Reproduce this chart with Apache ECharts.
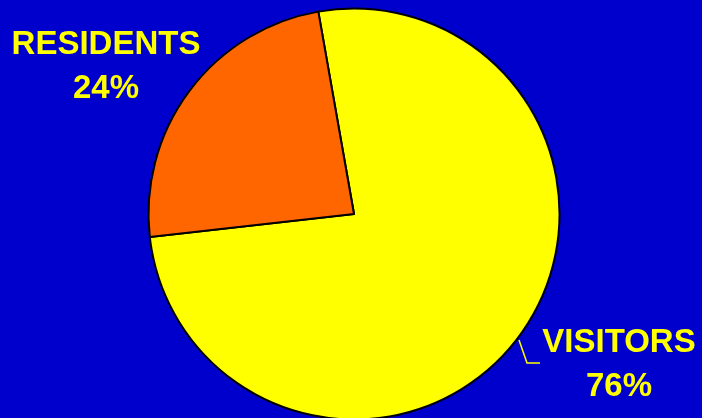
<!DOCTYPE html>
<html><head><meta charset="utf-8">
<script src="https://cdn.jsdelivr.net/npm/echarts@6/dist/echarts.min.js"></script>
<style>html,body{margin:0;padding:0;background:#0000cc;}#c{width:702px;height:418px;}</style>
</head><body><div id="c"></div>
<script>
var categories = ['VISITORS', 'RESIDENTS'];
var values = [76, 24];
var colors = ['#ffff00', '#ff6600'];

var chart = echarts.init(document.getElementById('c'), null, {renderer: 'canvas'});
var data = categories.map(function (n, i) {
  return {
    name: n, value: values[i],
    itemStyle: {color: colors[i]},
    labelLine: {show: i === 0}
  };
});
chart.setOption({
  backgroundColor: '#0000cc',
  animation: false,
  series: [{
    type: 'pie',
    center: [354, 214],
    radius: 205.5,
    startAngle: 100,
    clockwise: true,
    data: data,
    itemStyle: {borderColor: '#000', borderWidth: 2},
    label: {
      show: true,
      color: '#ffff00',
      fontFamily: 'Liberation Sans, Arial, sans-serif',
      fontWeight: 'bold',
      fontSize: 33,
      lineHeight: 44,
      align: 'center',
      width: 400,
      overflow: 'none',
      formatter: function (p) { return p.name + '\n' + p.value + '%'; }
    },
    labelLine: {show: true, lineStyle: {color: '#ffff00', width: 1.5}},
    labelLayout: function (p) {
      if (p.dataIndex === 0) {
        return {x: 619, y: 365, align: 'center', verticalAlign: 'middle',
          labelLinePoints: [[519, 340], [527, 363], [540, 363]]};
      }
      return {x: 106, y: 67, align: 'center', verticalAlign: 'middle'};
    }
  }]
});
</script></body></html>
